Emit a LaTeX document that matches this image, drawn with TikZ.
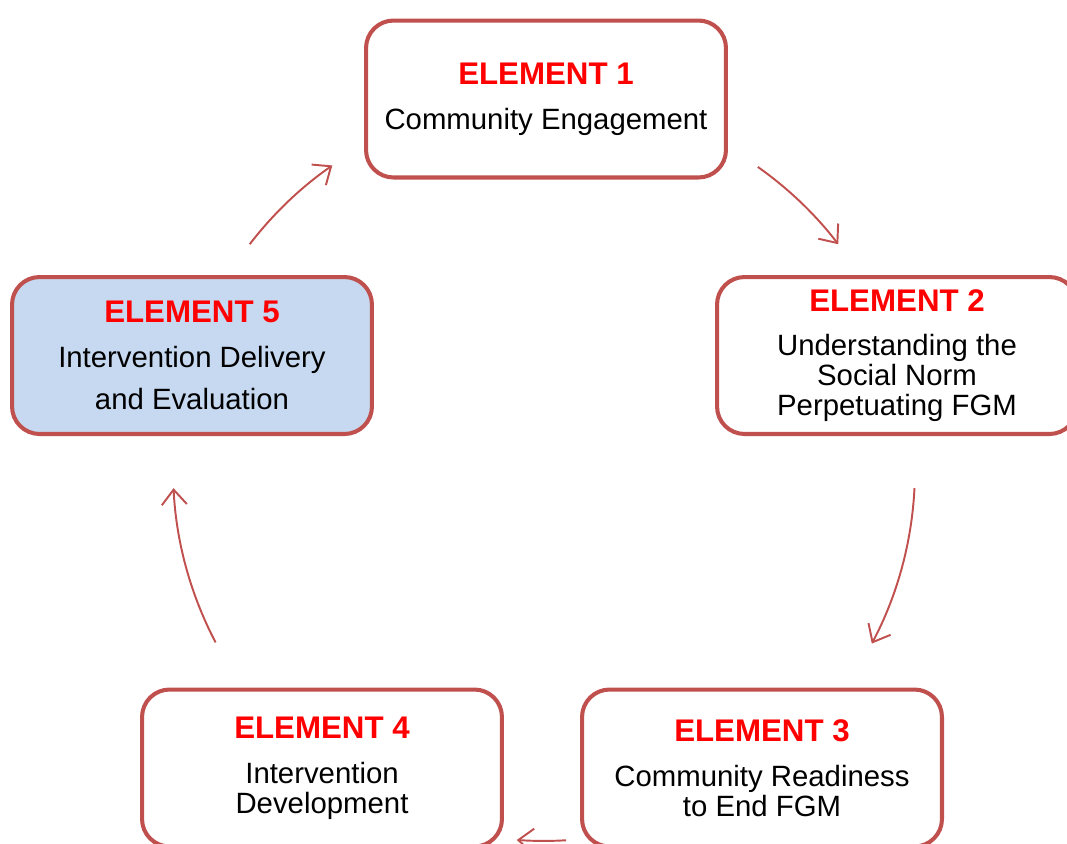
\documentclass[tikz,border=0pt]{standalone}
\usepackage{fontspec}
\setmainfont{Liberation Sans}
\usetikzlibrary{arrows.meta,calc}
\definecolor{brd}{RGB}{192,80,77}
\definecolor{pale}{RGB}{198,217,240}
\newcommand{\elhead}[1]{{\fontsize{17.8}{17}\selectfont\bfseries\color{red}#1}}
\tikzstyle{element}=[draw=brd, line width=2.3pt, rounded corners=0.55cm, fill=white, minimum width=7.2cm, minimum height=3.14cm, align=center, font=\fontsize{16.7}{17}\selectfont, inner sep=0pt]
\tikzstyle{flow}=[draw=brd, line width=1.1pt, -{Straight Barb[length=0.3cm,width=0.5cm]}]

\begin{document}
\begin{tikzpicture}[x=0.02cm,y=0.02cm]
            \useasboundingbox (0,0) rectangle (1067,-843);
            \node[element] (1) at (546,-99) {\elhead{ELEMENT 1}\\[8.5pt] Community Engagement};
            \node[element] (2) at (897,-355.5) {\elhead{ELEMENT 2}\\[8.5pt] Understanding the\\ Social Norm\\ Perpetuating FGM};
            \node[element] (3) at (762,-768) {\elhead{ELEMENT 3}\\[8.5pt] Community Readiness\\ to End FGM};
            \node[element] (4) at (322,-768) {\elhead{ELEMENT 4}\\[8.5pt] Intervention\\ Development};
            \node[element, fill=pale] (5) at (192,-355.5) {\elhead{ELEMENT 5}\\[8.5pt] Intervention Delivery\\[7.4pt] and Evaluation};
            \coordinate (ctr) at (544,-470);
            \coordinate (s12) at ($(ctr)+(54.8:7.42cm)$);
            \coordinate (s23) at ($(ctr)+(-2.8:7.42cm)$);
            \coordinate (s34) at ($(ctr)+(-86.6:7.42cm)$);
            \coordinate (s45) at ($(ctr)+(207.7:7.42cm)$);
            \coordinate (s51) at ($(ctr)+(142.5:7.42cm)$);
            \draw[flow] (s12) arc[start angle=54.8, end angle=37.5, radius=7.42cm];
            \draw[flow] (s23) arc[start angle=-2.8, end angle=-27.9, radius=7.42cm];
            \draw[flow] (s34) arc[start angle=-86.6, end angle=-94.2, radius=7.42cm];
            \draw[flow] (s45) arc[start angle=207.7, end angle=182.8, radius=7.42cm];
            \draw[flow] (s51) arc[start angle=142.5, end angle=124.8, radius=7.42cm];
\end{tikzpicture}
\end{document}
